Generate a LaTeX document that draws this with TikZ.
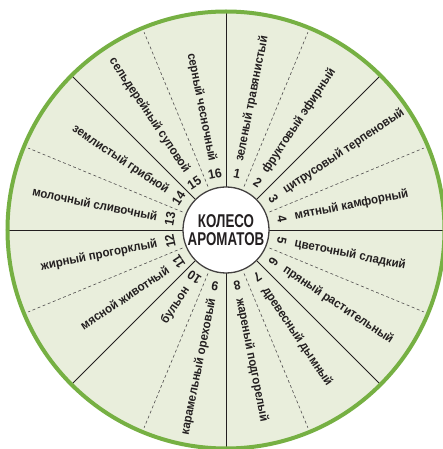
\documentclass[tikz,border=0pt]{standalone}
\usepackage{fontspec}
\setmainfont{Liberation Sans}
\newfontfamily\ctrfont{Liberation Sans}[FakeStretch=0.72]
\newfontfamily\labfont{Liberation Sans}[FakeStretch=0.93]
\definecolor{wheelfill}{RGB}{233,238,220}
\definecolor{wheelgreen}{RGB}{118,176,67}
\definecolor{ink}{RGB}{35,31,32}
\begin{document}
\begin{tikzpicture}[x=1pt,y=1pt,
  lab/.style={font=\labfont\fontsize{12.3}{13}\selectfont\bfseries, text=ink, inner sep=0pt},
  num/.style={font=\labfont\fontsize{13}{14}\selectfont\bfseries, text=ink, inner sep=0pt},
  solidspoke/.style={draw=ink, line width=0.8pt},
  dashspoke/.style={draw=ink!80, line width=0.6pt, dash pattern=on 3pt off 2.5pt},
]
\fill[white] (-226,-219) rectangle (217,230);
\useasboundingbox (-226,-219) rectangle (217,230);
\node[circle, fill=wheelfill, minimum size=437pt, inner sep=0pt] (outer) at (0,0) {};
\foreach \a in {0,45,...,315} \draw[solidspoke] (\a:43) -- (\a:217);
\foreach \a in {22.5,67.5,...,337.5} \draw[dashspoke] (\a:47) -- (\a:214);
\draw[wheelgreen, line width=4pt] (outer.center) circle[radius=218.5];
\node[circle, draw=ink!85, line width=1.3pt, fill=white, minimum size=86pt, inner sep=0pt,
  align=center, text=ink, font=\ctrfont\fontsize{18.5}{18}\selectfont\bfseries] (hub) at (0,0) {КОЛЕСО\\АРОМАТОВ};
\foreach \k [evaluate=\k as \th using 78.75-22.5*(\k-1)] in {1,...,16}
  \node[num, rotate=\th-90] (n\k) at (\th:57) {\k};
\foreach \k/\t [evaluate=\k as \th using 78.75-22.5*(\k-1)] in
  {1/{зеленый травянистый}, 2/{фруктовый эфирный}, 3/{цитрусовый терпеновый},
   4/{мятный камфорный}, 5/{цветочный сладкий}, 6/{пряный растительный},
   7/{древесный дымный}, 8/{жареный подгорелый}}
  \node[lab, anchor=west, rotate=\th] (l\k) at (\th:70) {\t};
\foreach \k/\t [evaluate=\k as \th using 78.75-22.5*(\k-1)] in
  {9/{карамельный ореховый}, 10/{бульон}, 11/{мясной животный},
   12/{жирный прогорклый}, 13/{молочный сливочный}, 14/{землистый грибной},
   15/{сельдерейный суповой}, 16/{серный чесночный}}
  \node[lab, anchor=east, rotate=\th+180] (l\k) at (\th:70) {\t};
\end{tikzpicture}
\end{document}
